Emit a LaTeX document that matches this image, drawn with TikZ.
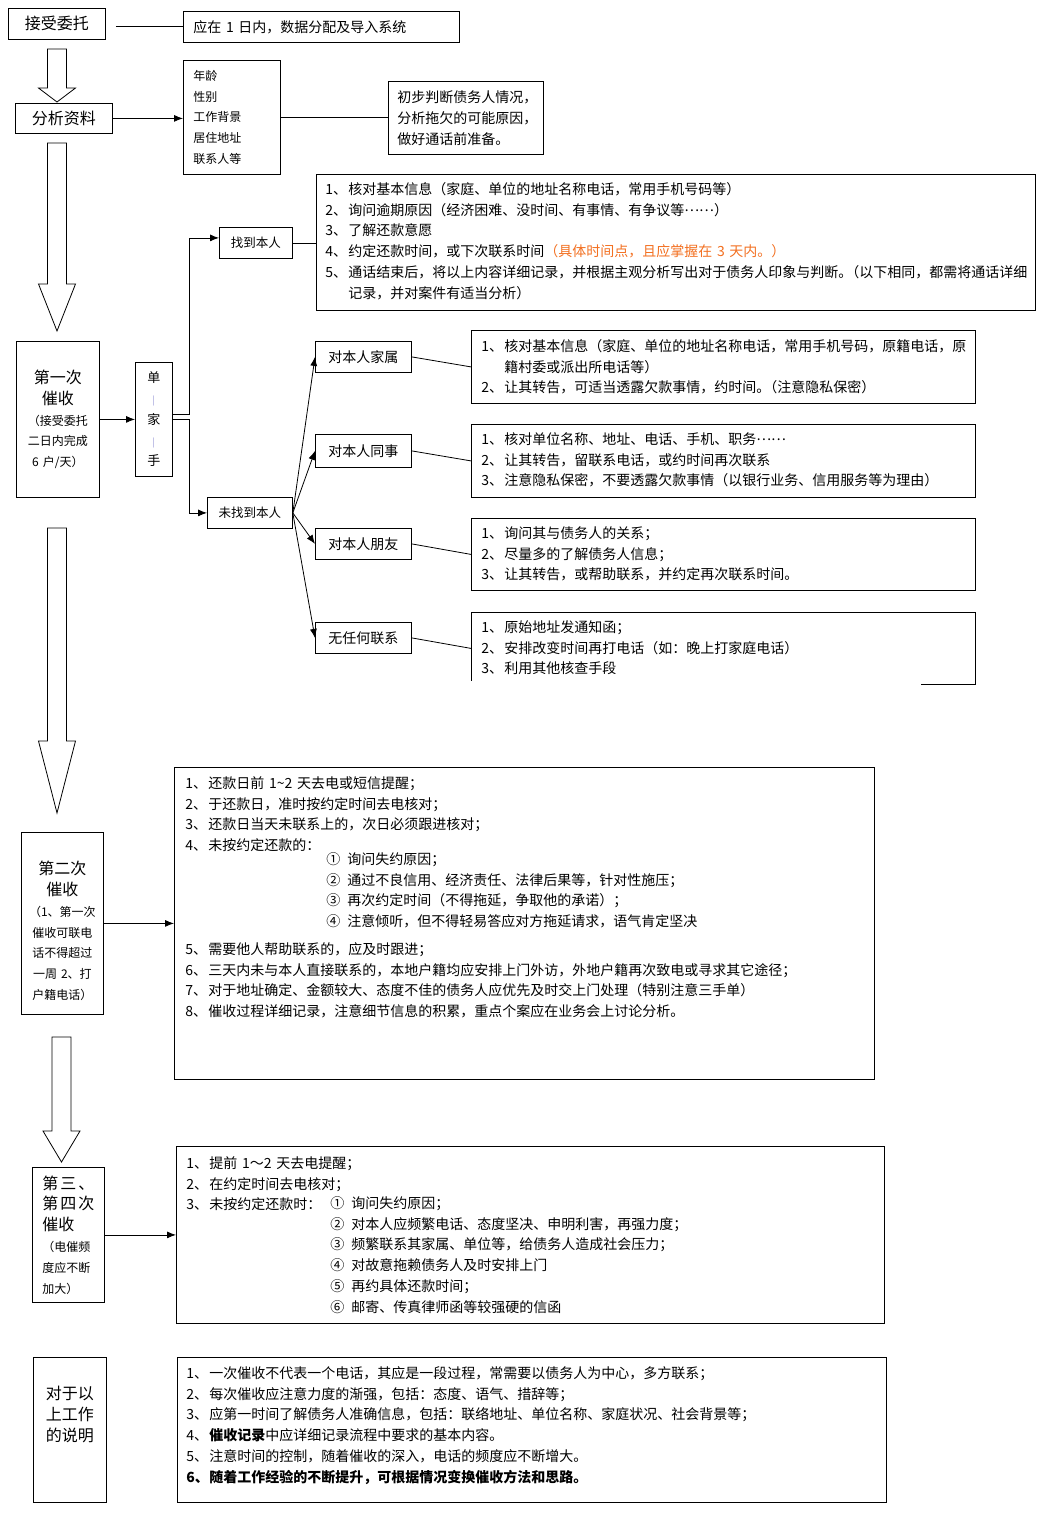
\documentclass[tikz,border=0pt]{standalone}
\usepackage{fontspec}
\setmainfont{Noto Sans CJK SC}
\usetikzlibrary{arrows.meta}
\definecolor{remark}{RGB}{243,112,33}
\definecolor{sepline}{RGB}{150,150,215}
\newcommand{\numb}[1]{\makebox[23pt][l]{#1、}}
\newcommand{\circnum}[1]{\makebox[21pt][l]{#1}}
\newcommand{\bigtxt}{\fontsize{16}{20.8}\selectfont}
\newcommand{\cnellipsis}{\raisebox{4pt}{……}}

\begin{document}
\begin{tikzpicture}[x=1pt,y=-1pt,line width=0.8pt,>={Latex[length=9pt,width=7pt]},
    cell/.style={draw,anchor=north west,inner sep=0pt,font=\fontsize{14}{20.8}\selectfont},
    listtext/.style={anchor=base west,inner sep=0pt,text width=700pt,align=left,font=\fontsize{14}{20.8}\selectfont},
    boxtext/.style={inner sep=0pt,align=center,font=\fontsize{12}{20.8}\selectfont},
    hollow/.style={draw,fill=white,line join=miter}]
    \path[fill=white] (0,0) rectangle (1046,1536);
    \useasboundingbox (0,0) rectangle (1046,1536);

    \node[cell,minimum width=97pt,minimum height=31pt,font=\bigtxt] (accept) at (8,8) {接受委托};
    \node[cell,minimum width=276pt,minimum height=31pt,text width=256pt,align=left] (import) at (183,11) {应在 1 日内，数据分配及导入系统};
    \node[cell,minimum width=97pt,minimum height=30pt,font=\bigtxt] (analyze) at (15,103) {分析资料};
    \node[cell,minimum width=97pt,minimum height=114pt,text width=77pt,align=left,font=\fontsize{12}{20.8}\selectfont] (profile) at (183,60) {年龄\\性别\\工作背景\\居住地址\\联系人等};
    \node[cell,minimum width=155pt,minimum height=73pt,text width=137pt,align=left] (judge) at (388,81) {初步判断债务人情况，\\分析拖欠的可能原因，\\做好通话前准备。};

    \node[cell,minimum width=83pt,minimum height=156pt,text width=80pt,align=center,font=\fontsize{12}{20.8}\selectfont] (first) at (16,341) {{\bigtxt 第一次}\\{\bigtxt 催收}\\（接受委托\\二日内完成\\6 户/天）};
    \node[cell,minimum width=37pt,minimum height=114pt,text width=30pt,align=center,font=\fontsize{13}{20.8}\selectfont] (who) at (135,362) {单\\{\fontsize{9}{20.8}\selectfont\textcolor{sepline}{|}}\\家\\{\fontsize{9}{20.8}\selectfont\textcolor{sepline}{|}}\\手};
    \node[cell,minimum width=73pt,minimum height=31pt,font=\fontsize{12.5}{20.8}\selectfont] (found) at (219,227) {找到本人};
    \node[cell,minimum width=85pt,minimum height=31pt,font=\fontsize{12.5}{20.8}\selectfont] (notfound) at (207,497) {未找到本人};
    \node[cell,minimum width=96pt,minimum height=31pt] (family) at (315,341) {对本人家属};
    \node[cell,minimum width=96pt,minimum height=33pt] (colleague) at (315,434) {对本人同事};
    \node[cell,minimum width=96pt,minimum height=31pt] (friend) at (315,528) {对本人朋友};
    \node[cell,minimum width=96pt,minimum height=31pt] (nobody) at (315,622) {无任何联系};

    \node[cell,minimum width=719pt,minimum height=136pt] (foundlist) at (316,174) {};
    \node[listtext] at ([shift={(9,20.3)}]foundlist.north west) {\numb{1}核对基本信息（家庭、单位的地址名称电话，常用手机号码等）\\
        \numb{2}询问逾期原因（经济困难、没时间、有事情、有争议等\cnellipsis）\\
        \numb{3}了解还款意愿\\
        \numb{4}约定还款时间，或下次联系时间\textcolor{remark}{（具体时间点，且应掌握在 3 天内。）}\\
        \numb{5}通话结束后，将以上内容详细记录，并根据主观分析写出对于债务人印象与判断。\kern-7pt（以下相同，都需将通话详细\\
        \hspace*{23pt}记录，并对案件有适当分析）};

    \node[cell,minimum width=504pt,minimum height=73pt] (familylist) at (471,330) {};
    \node[listtext] at ([shift={(10,21.3)}]familylist.north west) {\numb{1}核对基本信息（家庭、单位的地址名称电话，常用手机号码，原籍电话，原\\
        \hspace*{23pt}籍村委或派出所电话等）\\
        \numb{2}让其转告，可适当透露欠款事情，约时间。\kern-7pt（注意隐私保密）};
    \node[cell,minimum width=504pt,minimum height=73pt] (colleaguelist) at (471,424) {};
    \node[listtext] at ([shift={(10,20.3)}]colleaguelist.north west) {\numb{1}核对单位名称、地址、电话、手机、职务\cnellipsis\\
        \numb{2}让其转告，留联系电话，或约时间再次联系\\
        \numb{3}注意隐私保密，不要透露欠款事情（以银行业务、信用服务等为理由）};
    \node[cell,minimum width=504pt,minimum height=72pt] (friendlist) at (471,518) {};
    \node[listtext] at ([shift={(10,20.3)}]friendlist.north west) {\numb{1}询问其与债务人的关系；\\
        \numb{2}尽量多的了解债务人信息；\\
        \numb{3}让其转告，或帮助联系，并约定再次联系时间。};
    \node[cell,draw=none,minimum width=504pt,minimum height=72pt] (nobodylist) at (471,612) {};
    \draw ([yshift=4pt]nobodylist.south west) |- (nobodylist.north east) -- (nobodylist.south east) -- ++(-55,0);
    \node[listtext] at ([shift={(10,20.3)}]nobodylist.north west) {\numb{1}原始地址发通知函；\\
        \numb{2}安排改变时间再打电话（如：晚上打家庭电话）\\
        \numb{3}利用其他核查手段};

    \node[cell,minimum width=82pt,minimum height=182pt] (second) at (21,832) {};
    \node[boxtext,text width=80pt] at ([yshift=-7.5pt]second.center) {{\bigtxt 第二次}\\{\bigtxt 催收}\\（1、第一次\\催收可联电\\话不得超过\\一周 2、打\\户籍电话）};
    \node[cell,minimum width=700pt,minimum height=312pt] (secondlist) at (174,767) {};
    \node[listtext] at ([shift={(11,21.3)}]secondlist.north west) {\numb{1}还款日前 1\textasciitilde2 天去电或短信提醒；\\
        \numb{2}于还款日，准时按约定时间去电核对；\\
        \numb{3}还款日当天未联系上的，次日必须跟进核对；\\
        \numb{4}未按约定还款的：};
    \node[listtext] at ([shift={(152,97.3)}]secondlist.north west) {\circnum{①}询问失约原因；\\
        \circnum{②}通过不良信用、经济责任、法律后果等，针对性施压；\\
        \circnum{③}再次约定时间（不得拖延，争取他的承诺）；\\
        \circnum{④}注意倾听，但不得轻易答应对方拖延请求，语气肯定坚决};
    \node[listtext] at ([shift={(11,187.3)}]secondlist.north west) {\numb{5}需要他人帮助联系的，应及时跟进；\\
        \numb{6}三天内未与本人直接联系的，本地户籍均应安排上门外访，外地户籍再次致电或寻求其它途径；\\
        \numb{7}对于地址确定、金额较大、态度不佳的债务人应优先及时交上门处理（特别注意三手单）\\
        \numb{8}催收过程详细记录，注意细节信息的积累，重点个案应在业务会上讨论分析。};

    \node[cell,minimum width=72pt,minimum height=135pt,text width=52pt,align=left,font=\fontsize{12}{20.8}\selectfont] (third) at (32,1167) {{\bigtxt\makebox[52pt][s]{第\hfill 三\hfill 、}}\\{\bigtxt\makebox[52pt][s]{第\hfill 四\hfill 次}}\\{\bigtxt 催收}\\（电催频\\度应不断\\加大）};
    \node[cell,minimum width=708pt,minimum height=177pt] (thirdlist) at (176,1146) {};
    \node[listtext] at ([shift={(10,22.3)}]thirdlist.north west) {\numb{1}提前 1～2 天去电提醒；\\
        \numb{2}在约定时间去电核对；\\
        \numb{3}未按约定还款时：};
    \node[listtext] at ([shift={(154,62.3)}]thirdlist.north west) {\circnum{①}询问失约原因；\\
        \circnum{②}对本人应频繁电话、态度坚决、申明利害，再强力度；\\
        \circnum{③}频繁联系其家属、单位等，给债务人造成社会压力；\\
        \circnum{④}对故意拖赖债务人及时安排上门\\
        \circnum{⑤}再约具体还款时间；\\
        \circnum{⑥}邮寄、传真律师函等较强硬的信函};

    \node[cell,minimum width=73pt,minimum height=145pt] (notes) at (33,1357) {};
    \node[boxtext,text width=70pt,font=\bigtxt] at ([yshift=15.5pt]notes.center) {对于以\\上工作\\的说明};
    \node[cell,minimum width=709pt,minimum height=145pt] (noteslist) at (177,1357) {};
    \node[listtext] at ([shift={(9,21.3)}]noteslist.north west) {\numb{1}一次催收不代表一个电话，其应是一段过程，常需要以债务人为中心，多方联系；\\
        \numb{2}每次催收应注意力度的渐强，包括：态度、语气、措辞等；\\
        \numb{3}应第一时间了解债务人准确信息，包括：联络地址、单位名称、家庭状况、社会背景等；\\
        \numb{4}\textbf{催收记录}中应详细记录流程中要求的基本内容。\\
        \numb{5}注意时间的控制，随着催收的深入，电话的频度应不断增大。\\
        \textbf{\numb{6}随着工作经验的不断提升，可根据情况变换催收方法和思路。}};

    \draw[hollow] (47.5,49) -- (47.5,88) -- (38.5,88) -- (57,102) -- (75.5,88) -- (66.5,88) -- (66.5,49) -- cycle;
    \draw[hollow] (47.5,143) -- (47.5,284) -- (38.5,284) -- (57,331) -- (75.5,284) -- (66.5,284) -- (66.5,143) -- cycle;
    \draw[hollow] (47.5,528) -- (47.5,741) -- (38.5,741) -- (57,813) -- (75.5,741) -- (66.5,741) -- (66.5,528) -- cycle;
    \draw[hollow] (52,1037) -- (52,1131) -- (43,1131) -- (61.5,1162) -- (80,1131) -- (71,1131) -- (71,1037) -- cycle;

    \coordinate (acceptout) at ([xshift=10pt]accept.east);
    \draw (acceptout |- import.west) -- (import.west);
    \draw[->] (analyze.east) -- (analyze.east -| profile.west);
    \draw (profile.east) -- (profile.east -| judge.west);
    \draw[->] (first) -- (who);
    \draw[->] ([yshift=5pt]who.east) -- ++(17,0) |- ([yshift=5pt]found.west);
    \draw[->] (who.east) -- ++(17,0) |- (notfound.west);
    \draw (found.east) -- (found.east -| foundlist.west);
    \foreach \n in {family,colleague,friend,nobody}
        \draw[->] (notfound.east) -- (\n.west);
    \foreach \a/\b in {family/familylist,colleague/colleaguelist,friend/friendlist,nobody/nobodylist}
        \draw (\a.east) -- (\b.west);
    \draw[->] (second) -- (secondlist);
    \draw[->] (third) -- (thirdlist);
\end{tikzpicture}
\end{document}
